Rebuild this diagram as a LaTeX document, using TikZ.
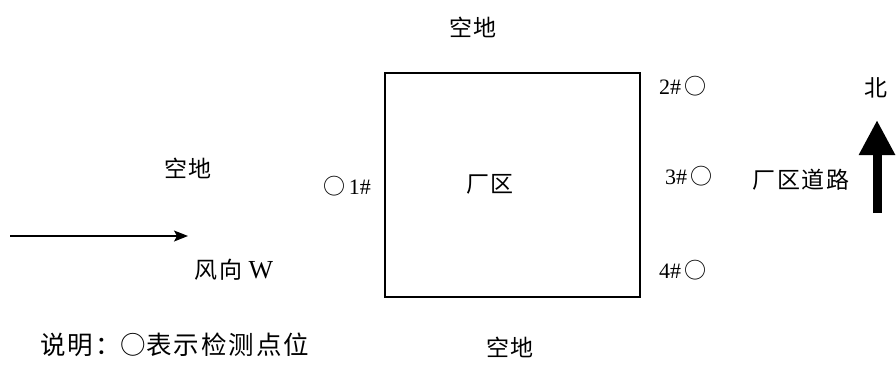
\documentclass[tikz,border=0pt]{standalone}
\usepackage{fontspec}
\setmainfont{Liberation Serif}
\newfontfamily\cjk[LetterSpace=8]{Noto Sans CJK SC}
\newfontfamily\cjkplain{Noto Sans CJK SC}
\usetikzlibrary{arrows.meta}
\begin{document}
\begin{tikzpicture}[x=1pt,y=-1pt,
  lbl/.style={inner sep=0pt,font=\fontsize{23}{26}\selectfont\cjk},
  num/.style={inner sep=0pt,font=\fontsize{22}{26}\selectfont}]
\useasboundingbox[fill=white] (0,0) rectangle (896,365);
\node[draw,line width=1.2pt,minimum width=255pt,minimum height=224pt,inner sep=0pt] (site) at (512.5,185) {};
\node[lbl] (t1) at (473,27) {空地};
\node[lbl] (t2) at (188,168) {空地};
\node[lbl] (t3) at (510,347) {空地};
\node[lbl] (area) at (490,184) {厂区};
\node[num] (p1) at (347,186) {{\cjkplain ○}\,1\#};
\node[num] (p2) at (683,86) {2\#\,{\cjkplain ○}};
\node[num] (p3) at (689,176) {3\#\,{\cjkplain ○}};
\node[lbl] (road) at (801,180) {厂区道路};
\node[num] (p4) at (683,270) {4\#\,{\cjkplain ○}};
\node[lbl] (north) at (876,88) {北};
\coordinate (nb) at (877,213);
\coordinate (nt) at (877,120);
\draw[line width=9pt,-{Triangle[length=35pt,width=34pt]}] (nb) -- (nt);
\coordinate (wa) at (10,236);
\coordinate (wb) at (188,236);
\draw[line width=1.2pt,-{Stealth[length=14pt,width=11pt,inset=3pt]}] (wa) -- (wb);
\node[inner sep=0pt] (wind) at (234,270) {{\fontsize{23}{26}\selectfont\cjk 风向}\hspace{6pt}{\fontsize{26}{26}\selectfont W}};
\node[inner sep=0pt,anchor=west,font=\fontsize{25.5}{28}\selectfont\cjk] (legend) at (40,345) {说明：{\cjkplain ○}表示检测点位};
\end{tikzpicture}
\end{document}
